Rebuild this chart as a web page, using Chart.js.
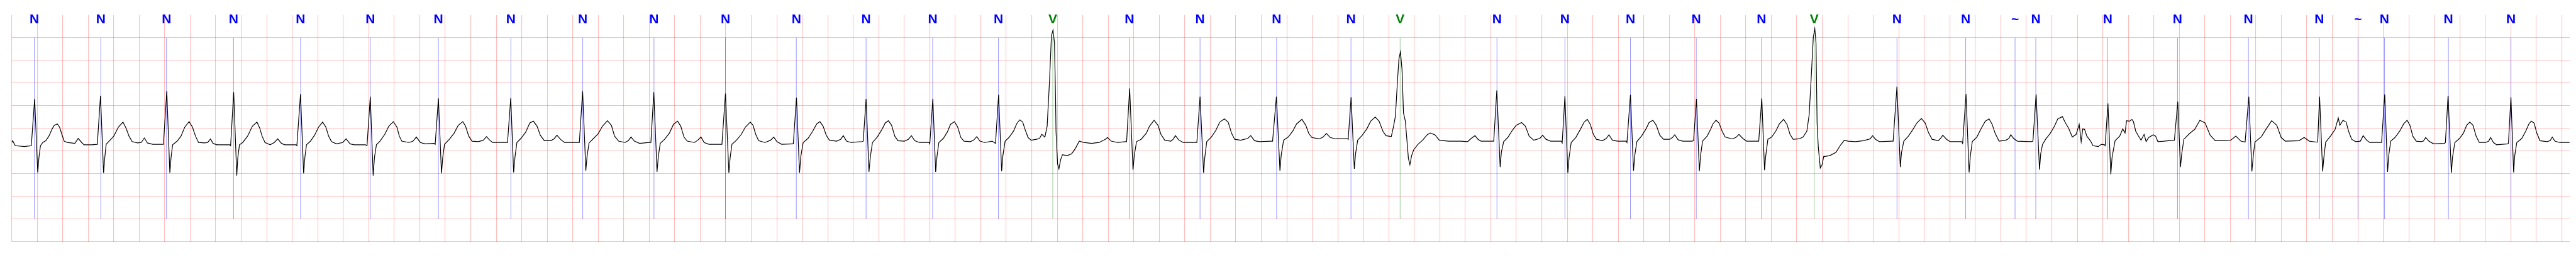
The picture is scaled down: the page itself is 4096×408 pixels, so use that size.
<!DOCTYPE html>
<html>
<head>
<meta charset="utf-8">
<script src="https://cdn.jsdelivr.net/npm/chart.js@4/dist/chart.umd.min.js"></script>
<style>
html,body{margin:0;padding:0;background:#fff;}
canvas{display:block;}
</style>
</head>
<body>
<canvas id="c" width="4096" height="408" style="width:4096px;height:408px"></canvas>
<script>
// ---- data (time in s, amplitude in mV) ----
const beatTimes = [0.1774,0.6985,1.2137,1.7395,2.2649,2.8120,3.3463,3.9148,4.4783,5.0370,5.5977,6.1534,6.7006,7.2227,7.7385,8.1648,8.7662,9.3197,9.9200,10.5033,10.8889,11.6483,12.1814,12.6953,13.2115,13.7232,14.1364,14.7856,15.3246,15.7116,15.8744,16.4377,16.9861,17.542,18.098,18.4012,18.6087,19.1104,19.6009];
const beatSymbols = ['N','N','N','N','N','N','N','N','N','N','N','N','N','N','N','V','N','N','N','N','V','N','N','N','N','N','V','N','N','~','N','N','N','N','N','~','N','N','N'];
const timeRange = [0, 20.0612];
const timeGrid = [0, 20.0, 0.2];
const mvRange = [-2.5, 2.5];
const mvGrid = [-2.5, 2.0, 0.5];
const markerSpan = [-2.0, 2.0];
const labelLevel = 2.394;

const ecgTrace = [
[0.000,-0.31],[0.007,-0.27],[0.022,-0.35],[0.028,-0.38],[0.064,-0.39],[0.100,-0.40],
[0.1535,-0.38],[0.1798,0.65],[0.2039,-0.97],[0.2133,-0.64],[0.2254,-0.38],[0.2434,-0.31],[0.2675,-0.27],[0.2914,-0.17],[0.3153,-0.02],[0.3333,0.07],[0.3571,0.10],[0.3751,0.03],[0.3931,-0.13],[0.4111,-0.28],[0.4350,-0.31],[0.4951,-0.33],[0.5214,-0.22],[0.5487,-0.31],[0.5667,-0.36],[0.6268,-0.36],
[0.6711,-0.35],[0.6962,0.72],[0.7202,-0.98],[0.7298,-0.64],[0.7406,-0.35],[0.7704,-0.26],[0.8004,-0.17],[0.8364,0.03],[0.8723,0.14],[0.8962,0.01],[0.9201,-0.17],[0.9442,-0.29],[0.9861,-0.32],[1.0159,-0.31],[1.0400,-0.21],[1.0639,-0.32],[1.1058,-0.35],[1.1836,-0.35],
[1.1897,-0.35],[1.2160,0.82],[1.2399,-0.98],[1.2496,-0.64],[1.2617,-0.36],[1.2976,-0.28],[1.3274,-0.17],[1.3574,0.03],[1.3910,0.15],[1.4173,0.03],[1.4412,-0.17],[1.4653,-0.31],[1.5131,-0.32],[1.5370,-0.31],[1.5587,-0.23],[1.5791,-0.33],[1.6089,-0.36],[1.7108,-0.36],
[1.7167,-0.38],[1.7406,0.80],[1.7648,-1.04],[1.7730,-0.64],[1.7863,-0.36],[1.8115,-0.31],[1.8496,-0.17],[1.8877,0.05],[1.9231,0.14],[1.9446,0.01],[1.9636,-0.17],[1.9864,-0.31],[2.0269,-0.36],[2.0586,-0.31],[2.0862,-0.23],[2.1155,-0.33],[2.1407,-0.36],[2.2295,-0.36],
[2.2361,-0.38],[2.2649,0.76],[2.2891,-0.99],[2.2990,-0.64],[2.3116,-0.36],[2.3433,-0.28],[2.3750,-0.15],[2.4066,0.03],[2.4383,0.14],[2.4637,0.03],[2.4852,-0.17],[2.5080,-0.29],[2.5459,-0.34],[2.5966,-0.31],[2.6221,-0.23],[2.6537,-0.34],[2.6854,-0.36],[2.7740,-0.36],
[2.7865,-0.38],[2.8120,0.70],[2.8348,-1.04],[2.8448,-0.64],[2.8601,-0.36],[2.8880,-0.28],[2.9258,-0.13],[2.9575,0.05],[2.9929,0.15],[3.0208,0.03],[3.0399,-0.17],[3.0589,-0.28],[3.1158,-0.31],[3.1475,-0.28],[3.1730,-0.19],[3.2044,-0.31],[3.2424,-0.34],[3.3122,-0.33],
[3.3211,-0.35],[3.3463,0.66],[3.3704,-0.99],[3.3803,-0.64],[3.3943,-0.35],[3.4324,-0.24],[3.4703,-0.10],[3.5019,0.07],[3.5376,0.15],[3.5591,0.05],[3.5843,-0.17],[3.6098,-0.28],[3.6602,-0.29],[3.6983,-0.26],[3.7236,-0.18],[3.7491,-0.26],[3.7718,-0.31],[3.8733,-0.31],
[3.8883,-0.31],[3.9138,0.67],[3.9363,-0.97],[3.9465,-0.64],[3.9618,-0.31],[3.9935,-0.22],[4.0313,-0.08],[4.0630,0.12],[4.0909,0.16],[4.1201,0.05],[4.1454,-0.15],[4.1770,-0.27],[4.2278,-0.27],[4.2530,-0.23],[4.2758,-0.15],[4.3037,-0.24],[4.3353,-0.31],[4.4429,-0.31],
[4.4518,-0.31],[4.4773,0.82],[4.5025,-0.93],[4.5127,-0.60],[4.5277,-0.32],[4.5634,-0.22],[4.6012,-0.11],[4.6329,0.05],[4.6721,0.17],[4.7027,0.07],[4.7279,-0.17],[4.7596,-0.28],[4.8103,-0.31],[4.8355,-0.27],[4.8570,-0.19],[4.8835,-0.28],[4.9240,-0.33],[5.0003,-0.31],
[5.0128,-0.31],[5.0356,0.80],[5.0608,-0.96],[5.0710,-0.62],[5.0860,-0.33],[5.1204,-0.24],[5.1585,-0.10],[5.1899,0.09],[5.2216,0.16],[5.2471,0.05],[5.2723,-0.19],[5.2978,-0.28],[5.3547,-0.31],[5.3799,-0.26],[5.4054,-0.19],[5.4306,-0.31],[5.4687,-0.35],[5.5637,-0.35],
[5.5699,-0.35],[5.5977,0.77],[5.6243,-0.98],[5.6345,-0.64],[5.6485,-0.35],[5.6839,-0.26],[5.7220,-0.13],[5.7537,0.03],[5.7924,0.14],[5.8139,0.07],[5.8350,-0.13],[5.8573,-0.27],[5.9075,-0.31],[5.9512,-0.26],[5.9762,-0.19],[6.0011,-0.29],[6.0384,-0.35],[6.1259,-0.34],
[6.1297,-0.34],[6.1546,0.68],[6.1785,-0.98],[6.1884,-0.62],[6.2072,-0.31],[6.2448,-0.22],[6.2820,-0.06],[6.3134,0.10],[6.3384,0.15],[6.3633,0.05],[6.3883,-0.15],[6.4132,-0.26],[6.4695,-0.28],[6.5007,-0.24],[6.5219,-0.16],[6.5468,-0.28],[6.5820,-0.31],[6.6695,-0.29],
[6.6780,-0.28],[6.7006,0.65],[6.7231,-0.96],[6.7331,-0.64],[6.7505,-0.31],[6.7881,-0.19],[6.8253,-0.02],[6.8506,0.12],[6.8756,0.17],[6.9005,0.07],[6.9255,-0.17],[6.9505,-0.27],[7.0004,-0.28],[7.0318,-0.24],[7.0567,-0.16],[7.0816,-0.27],[7.1190,-0.31],[7.1941,-0.31],
[7.2002,-0.34],[7.2240,0.65],[7.2463,-0.96],[7.2565,-0.62],[7.2713,-0.31],[7.3064,-0.22],[7.3376,-0.08],[7.3625,0.09],[7.3939,0.15],[7.4189,0.03],[7.4438,-0.20],[7.4688,-0.28],[7.5187,-0.29],[7.5437,-0.26],[7.5686,-0.18],[7.5938,-0.28],[7.6311,-0.31],[7.6894,-0.28],[7.7108,-0.32],
[7.7156,-0.33],[7.7398,0.74],[7.7637,-0.94],[7.7733,-0.60],[7.7911,-0.28],[7.8211,-0.20],[7.8571,-0.06],[7.8810,0.10],[7.9051,0.19],[7.9290,0.14],[7.9470,-0.02],[7.9709,-0.20],[7.9948,-0.26],[8.0369,-0.24],[8.0608,-0.22],[8.0788,-0.13],[8.1027,-0.19],[8.1206,0.05],[8.1386,1.02],[8.1542,2.04],[8.1662,2.17],[8.1780,1.89],[8.1866,0.66],[8.1901,-0.06],[8.2022,-0.78],[8.2129,-0.89],[8.2261,-0.69],[8.2406,-0.58],[8.2765,-0.60],[8.3122,-0.56],[8.3423,-0.44],[8.3723,-0.28],[8.4083,-0.31],[8.4681,-0.33],[8.5280,-0.31],[8.5760,-0.24],[8.5940,-0.20],[8.6238,-0.28],[8.6718,-0.31],[8.7376,-0.29],
[8.7437,-0.29],[8.7676,0.88],[8.7939,-0.91],[8.8036,-0.60],[8.8215,-0.29],[8.8575,-0.24],[8.8994,-0.10],[8.9233,0.05],[8.9592,0.18],[8.9893,0.07],[9.0131,-0.13],[9.0432,-0.26],[9.0910,-0.28],[9.1089,-0.24],[9.1269,-0.16],[9.1508,-0.25],[9.1868,-0.31],[9.2828,-0.31],
[9.2946,-0.31],[9.3198,0.70],[9.3474,-0.98],[9.3568,-0.64],[9.3724,-0.29],[9.4083,-0.19],[9.4443,-0.04],[9.4743,0.14],[9.5103,0.21],[9.5401,0.14],[9.5675,-0.11],[9.5914,-0.24],[9.6394,-0.26],[9.6934,-0.22],[9.7173,-0.16],[9.7474,-0.27],[9.7833,-0.29],[9.8791,-0.28],
[9.8886,-0.28],[9.9186,0.70],[9.9463,-0.93],[9.9557,-0.60],[9.9750,-0.26],[10.0110,-0.19],[10.0469,-0.06],[10.0767,0.10],[10.1189,0.20],[10.1486,0.07],[10.1725,-0.11],[10.1967,-0.20],[10.2506,-0.23],[10.2804,-0.20],[10.3104,-0.11],[10.3405,-0.20],[10.3824,-0.23],[10.4781,-0.23],
[10.4816,-0.24],[10.5044,0.69],[10.5296,-0.89],[10.5393,-0.56],[10.5559,-0.26],[10.5919,-0.15],[10.6279,-0.01],[10.6579,0.16],[10.6936,0.25],[10.7237,0.16],[10.7538,-0.06],[10.7776,-0.16],[10.8195,-0.18],[10.8375,0.05],[10.8520,0.27],[10.8675,1.02],[10.8793,1.53],[10.8914,1.69],[10.9035,1.31],[10.9153,0.34],[10.9298,0.16],[10.9418,-0.24],[10.9537,-0.66],[10.9657,-0.80],[10.9789,-0.60],[10.9955,-0.47],[11.0291,-0.35],[11.0650,-0.26],[11.1010,-0.14],[11.1251,-0.10],[11.1611,-0.14],[11.1968,-0.26],[11.2687,-0.28],[11.3645,-0.28],[11.4184,-0.29],[11.4461,-0.22],[11.4761,-0.16],[11.5000,-0.24],[11.5239,-0.28],[11.6138,-0.28],
[11.6231,-0.28],[11.6472,0.84],[11.6734,-0.85],[11.6831,-0.52],[11.7011,-0.29],[11.7333,-0.20],[11.7693,-0.04],[11.7993,0.07],[11.8412,0.13],[11.8712,0.05],[11.9010,-0.17],[11.9370,-0.26],[11.9850,-0.22],[12.0065,-0.15],[12.0331,-0.24],[12.0688,-0.28],[12.1528,-0.28],
[12.1599,-0.32],[12.1814,0.71],[12.2042,-0.98],[12.2139,-0.64],[12.2305,-0.31],[12.2665,-0.20],[12.3024,-0.02],[12.3325,0.14],[12.3564,0.20],[12.3803,0.09],[12.4042,-0.13],[12.4283,-0.24],[12.4761,-0.27],[12.5061,-0.22],[12.5265,-0.14],[12.5539,-0.26],[12.5960,-0.28],[12.6618,-0.28],
[12.6679,-0.31],[12.6953,0.74],[12.7194,-0.93],[12.7288,-0.60],[12.7457,-0.29],[12.7817,-0.17],[12.8176,-0.01],[12.8415,0.13],[12.8716,0.18],[12.8979,0.07],[12.9253,-0.15],[12.9553,-0.24],[13.0033,-0.24],[13.0248,-0.20],[13.0428,-0.14],[13.0691,-0.25],[13.1051,-0.28],[13.1770,-0.28],
[13.1905,-0.27],[13.2129,0.65],[13.2357,-0.94],[13.2451,-0.60],[13.2607,-0.28],[13.2966,-0.17],[13.3243,-0.02],[13.3422,0.10],[13.3661,0.18],[13.3903,0.12],[13.4142,-0.06],[13.4380,-0.19],[13.4920,-0.23],[13.5220,-0.20],[13.5459,-0.13],[13.5760,-0.22],[13.6058,-0.28],[13.6957,-0.28],
[13.7013,-0.28],[13.7254,0.66],[13.7469,-0.92],[13.7565,-0.60],[13.7732,-0.24],[13.8032,-0.19],[13.8392,-0.04],[13.8631,0.10],[13.8966,0.20],[13.9229,0.09],[13.9468,-0.13],[13.9710,-0.24],[14.0187,-0.23],[14.0488,-0.19],[14.0788,-0.06],[14.0968,0.30],[14.1145,1.20],[14.1290,2.00],[14.1411,2.20],[14.1505,1.89],[14.1591,0.12],[14.1685,-0.41],[14.1841,-0.87],[14.1986,-0.80],[14.2106,-0.62],[14.2584,-0.60],[14.3064,-0.53],[14.3424,-0.37],[14.3721,-0.26],[14.4021,-0.28],[14.4620,-0.29],[14.5218,-0.27],[14.5758,-0.23],[14.5938,-0.16],[14.6176,-0.24],[14.6477,-0.29],[14.7435,-0.28],
[14.7555,-0.28],[14.7853,0.92],[14.8118,-0.85],[14.8212,-0.53],[14.8392,-0.28],[14.8752,-0.17],[14.9112,-0.02],[14.9412,0.12],[14.9772,0.22],[15.0070,0.12],[15.0312,-0.08],[15.0610,-0.24],[15.1090,-0.27],[15.1270,-0.22],[15.1450,-0.15],[15.1748,-0.24],[15.2024,-0.29],[15.2924,-0.29],
[15.3007,-0.33],[15.3270,0.76],[15.3512,-0.97],[15.3605,-0.62],[15.3761,-0.29],[15.4121,-0.19],[15.4480,0.01],[15.4781,0.16],[15.5079,0.21],[15.5321,0.09],[15.5559,-0.11],[15.5860,-0.28],[15.6397,-0.26],[15.6638,-0.22],[15.6780,-0.14],[15.6998,-0.22],[15.7296,-0.28],[15.8375,-0.29],
[15.8518,-0.28],[15.8768,0.75],[15.9033,-0.91],[15.9127,-0.56],[15.9272,-0.35],[15.9511,-0.24],[15.9870,-0.11],[16.0171,0.03],[16.0469,0.21],[16.0829,0.26],[16.1070,0.12],[16.1309,0.01],[16.1607,-0.19],[16.1908,-0.13],[16.2147,0.09],[16.2302,-0.29],[16.2423,-0.01],[16.2568,-0.02],[16.2748,-0.17],[16.3046,-0.28],[16.3226,-0.38],[16.3645,-0.40],[16.3886,-0.35],[16.4125,-0.36],
[16.4184,-0.38],[16.4401,0.55],[16.4627,-1.01],[16.4723,-0.64],[16.4962,-0.27],[16.5322,-0.17],[16.5563,-0.01],[16.5743,-0.10],[16.5861,0.17],[16.6103,0.16],[16.6282,0.20],[16.6401,0.15],[16.6581,-0.06],[16.6760,-0.15],[16.6999,-0.26],[16.7238,-0.13],[16.7396,-0.29],[16.7600,-0.20],[16.7960,-0.14],[16.8140,-0.17],[16.8318,-0.29],[16.8798,-0.28],[16.9517,-0.26],
[16.9614,-0.26],[16.9877,0.59],[17.0091,-0.85],[17.0188,-0.56],[17.0354,-0.24],[17.0810,-0.11],
[17.121,-0.02],[17.161,0.18],[17.202,0.12],[17.242,-0.15],[17.282,-0.27],[17.403,-0.26],[17.443,-0.17],[17.483,-0.28],[17.516,-0.30],
[17.545,0.70],[17.569,-0.95],[17.580,-0.60],[17.593,-0.30],[17.644,-0.18],[17.684,0.00],[17.724,0.17],[17.764,0.07],[17.799,-0.20],[17.831,-0.28],[17.939,-0.27],[17.979,-0.20],[18.019,-0.28],[18.073,-0.30],
[18.085,-0.30],[18.100,0.70],[18.124,-0.95],[18.135,-0.60],[18.148,-0.30],
[18.1540,-0.28],[18.1911,-0.15],[18.2219,-0.02],[18.2466,0.23],[18.2590,0.07],[18.2836,0.18],[18.3086,0.14],[18.3271,-0.06],[18.3518,-0.24],[18.3827,-0.29],[18.4197,-0.28],[18.4419,-0.16],[18.4691,-0.26],[18.4937,-0.31],[18.5801,-0.31],
[18.5863,-0.31],[18.6110,0.75],[18.6333,-0.96],[18.6421,-0.60],[18.6580,-0.28],[18.6915,-0.20],[18.7286,-0.06],[18.7594,0.10],[18.7865,0.18],[18.8088,0.07],[18.8311,-0.17],[18.8582,-0.28],[18.8952,-0.29],[18.9137,-0.28],[18.9322,-0.20],[18.9572,-0.28],[18.9942,-0.34],[19.0806,-0.33],
[19.0867,-0.31],[19.1077,0.72],[19.1337,-0.98],[19.1423,-0.64],[19.1608,-0.31],[19.1978,-0.22],[19.2289,-0.10],[19.2536,0.07],[19.2783,0.14],[19.3030,0.07],[19.3277,-0.17],[19.3524,-0.31],[19.4018,-0.31],[19.4265,-0.28],[19.4412,-0.20],[19.4635,-0.31],[19.4882,-0.36],[19.5748,-0.34],
[19.5811,-0.33],[19.6007,0.69],[19.6219,-0.97],[19.6305,-0.60],[19.6466,-0.31],[19.6860,-0.22],[19.7169,-0.06],[19.7416,0.10],[19.7601,0.16],[19.7824,0.12],[19.8033,-0.10],[19.8280,-0.27],[19.8836,-0.29],[19.9085,-0.27],[19.9246,-0.19],[19.9456,-0.28],[19.9826,-0.31],[20.0612,-0.31]
];

// ---- styles ----
const symbolColor = {'N':'#0000ff','V':'#008000','~':'#0000ff'};
const markerColor = {'N':'rgba(0,0,255,0.5)','V':'rgba(0,128,0,0.5)','~':'rgba(0,0,255,0.5)'};

function markerData(sym){
  const out=[];
  beatTimes.forEach((t,i)=>{
    if(beatSymbols[i]!==sym) return;
    out.push({x:t,y:markerSpan[0]},{x:t,y:markerSpan[1]},{x:t,y:null});
  });
  return out;
}
function gridTicks(g){
  const out=[]; const n=Math.round((g[1]-g[0])/g[2]);
  for(let i=0;i<=n;i++) out.push({value:+(g[0]+i*g[2]).toFixed(6)});
  return out;
}

const labelPlugin = {
  id:'beatLabels',
  afterDatasetsDraw(chart){
    const {ctx, scales:{x,y}} = chart;
    ctx.save();
    ctx.font = 'bold 21px "Liberation Sans Narrow", "Liberation Sans", sans-serif';
    ctx.textAlign='center';
    ctx.textBaseline='middle';
    beatTimes.forEach((t,i)=>{
      const s=beatSymbols[i];
      ctx.fillStyle=symbolColor[s];
      ctx.fillText(s, x.getPixelForValue(t), y.getPixelForValue(labelLevel));
    });
    ctx.restore();
  }
};

const datasets = [];
['N','~','V'].forEach(s=>{
  datasets.push({data:markerData(s), borderColor:markerColor[s], borderWidth:0.8, pointRadius:0, spanGaps:false, order:2});
});
datasets.push({data:ecgTrace.map(p=>({x:p[0],y:p[1]})), borderColor:'#000', borderWidth:1.2, pointRadius:0, tension:0, order:1});

new Chart(document.getElementById('c'), {
  type:'line',
  data:{datasets},
  options:{
    responsive:false, animation:false, devicePixelRatio:1,
    layout:{padding:{left:18.66, right:10.1, top:23.9, bottom:24.1}},
    plugins:{legend:{display:false}, tooltip:{enabled:false}},
    scales:{
      x:{type:'linear', min:timeRange[0], max:timeRange[1],
         border:{display:false},
         grid:{color:'rgba(255,0,0,0.26)', lineWidth:1.1, drawTicks:false},
         ticks:{display:false},
         afterBuildTicks:(ax)=>{ax.ticks=gridTicks(timeGrid);}},
      y:{type:'linear', min:mvRange[0], max:mvRange[1],
         border:{display:false},
         grid:{color:'rgba(255,0,0,0.26)', lineWidth:1.1, drawTicks:false},
         ticks:{display:false},
         afterBuildTicks:(ax)=>{ax.ticks=gridTicks(mvGrid);}}
    }
  },
  plugins:[labelPlugin]
});
</script>
</body>
</html>
